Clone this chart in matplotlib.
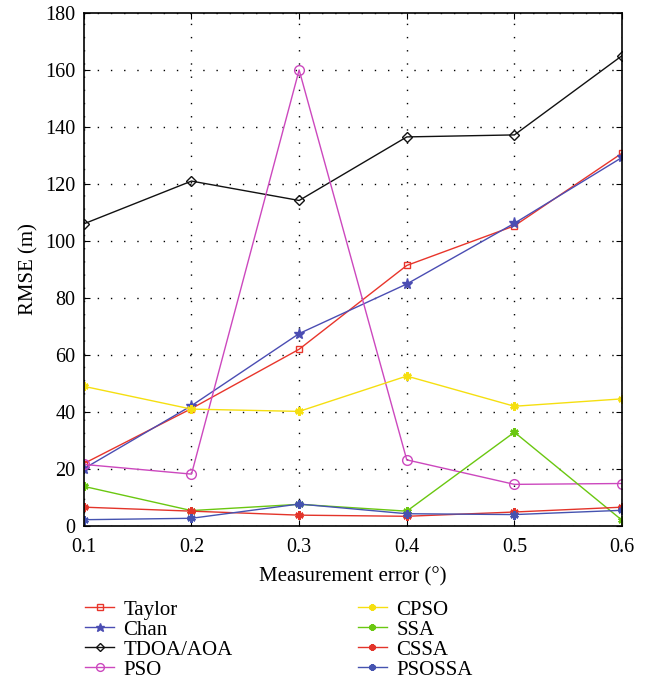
import numpy as np
import matplotlib
matplotlib.use("Agg")
import matplotlib.pyplot as plt

plt.rcParams["font.family"] = ["Liberation Serif", "DejaVu Serif"]

meas_err = [0.1, 0.2, 0.3, 0.4, 0.5, 0.6]

taylor = [21.9, 41.2, 62.0, 91.4, 105.3, 130.8]
chan = [20.1, 42.2, 67.5, 84.9, 106.2, 129.3]
tdoa_aoa = [106.0, 121.0, 114.2, 136.5, 137.2, 165.0]
pso = [21.6, 18.2, 160.0, 23.2, 14.6, 14.9]
cpso = [49.0, 41.0, 40.2, 52.6, 42.0, 44.6]
ssa = [13.9, 5.4, 7.6, 5.2, 32.9, 2.0]
cssa = [6.6, 5.2, 3.8, 3.4, 4.9, 6.6]
psossa = [2.2, 2.7, 7.7, 4.3, 4.0, 5.5]

ast = (6, 2, 0)  # asterisk marker
series = [
    ("Taylor", taylor, "#E8352B", "s", "none", 5),
    ("Chan", chan, "#4B4DB3", "*", "#4B4DB3", 8),
    ("TDOA/AOA", tdoa_aoa, "#111111", "D", "none", 5),
    ("PSO", pso, "#CC48BE", "o", "none", 7),
    ("CPSO", cpso, "#F5DF10", ast, "#F5DF10", 6),
    ("SSA", ssa, "#6AC710", ast, "#6AC710", 6),
    ("CSSA", cssa, "#E3342A", ast, "#E3342A", 6),
    ("PSOSSA", psossa, "#4553B0", ast, "#4553B0", 6),
]

fig = plt.figure(figsize=(6.5, 6.8), dpi=100)
ax = fig.add_axes([0.129, 0.2265, 0.828, 0.7545])

handles = []
for name, vals, col, mk, mfc, ms in series:
    ln, = ax.plot(meas_err, vals, color=col, lw=1.0, marker=mk, markersize=ms,
                  markerfacecolor=mfc, markeredgecolor=col, markeredgewidth=1.0,
                  label=name)
    if mk == ast:
        ln.set_markeredgewidth(1.8)
    handles.append(ln)

ax.set_xlim(0.1, 0.6)
ax.set_ylim(0, 180)
ax.set_xticks(meas_err)
ax.set_xticklabels([f"{v:.1f}" for v in meas_err])
ax.set_yticks(np.arange(0, 181, 20))
ax.tick_params(direction="in", top=True, right=True, labelsize=14.5, length=4)
ax.tick_params(axis="x", pad=9)
ax.tick_params(axis="y", pad=6)
ax.grid(True, color="black", ls=(0, (1, 8.5)), lw=1.0)
for sp in ax.spines.values():
    sp.set_linewidth(1.2)

ax.set_xlabel("Measurement error (°)", fontsize=15, labelpad=7)
ax.set_ylabel("RMSE (m)", fontsize=15, labelpad=5)

# two-column legend under the axes, no frame
leg = fig.legend(handles=handles, ncol=2, loc="upper left",
                 bbox_to_anchor=(0.118, 0.13), frameon=False, fontsize=15,
                 handlelength=1.4, handletextpad=0.45, columnspacing=6.0,
                 labelspacing=0.02, borderaxespad=0, markerscale=0.8)

fig.savefig("out.png", dpi=100)
